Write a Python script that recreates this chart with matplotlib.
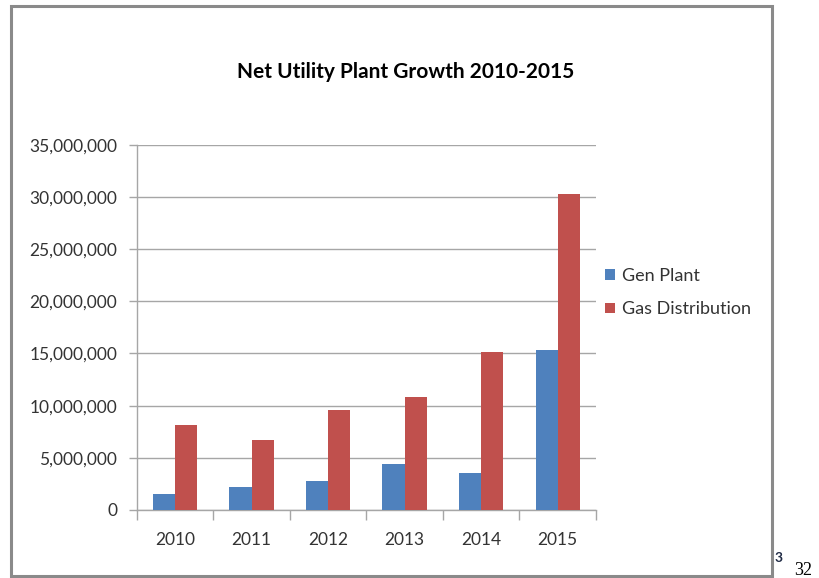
import matplotlib
matplotlib.use("Agg")
import matplotlib.pyplot as plt
from matplotlib.patches import Rectangle
from matplotlib.ticker import FuncFormatter, FixedLocator
import numpy as np

years = ["2010", "2011", "2012", "2013", "2014", "2015"]
gen_plant = [1530000, 2170000, 2810000, 4410000, 3510000, 15330000]
gas_distribution = [8170000, 6700000, 9550000, 10790000, 15170000, 30270000]
series_names = ["Gen Plant", "Gas Distribution"]
title = "Net Utility Plant Growth 2010-2015"

plt.rcParams['font.family'] = ['Lato', 'DejaVu Sans']

W, H = 819, 578
fig = plt.figure(figsize=(W / 100, H / 100), dpi=100)
fig.patch.set_facecolor('white')

def fx(px):
    return px / W

def fy(py):
    return 1 - py / H

# outer border
fig.patches.append(Rectangle((fx(11), fy(576)), fx(772) - fx(11), fy(6) - fy(576),
                             transform=fig.transFigure, fill=False,
                             edgecolor='#8a8a8a', linewidth=2.2))

left, right, top, bottom = 136.7, 596, 144.7, 510
ax = fig.add_axes([fx(left), fy(bottom), fx(right) - fx(left), fy(top) - fy(bottom)])

x = np.arange(len(years))
bw = 0.29
c_blue = '#4F81BD'
c_red = '#C0504D'
b1 = ax.bar(x - bw / 2, gen_plant, bw, color=c_blue, label=series_names[0], zorder=3)
b2 = ax.bar(x + bw / 2, gas_distribution, bw, color=c_red, label=series_names[1], zorder=3)

ax.set_xlim(-0.5, len(years) - 0.5)
ax.set_ylim(0, 35000000)
ax.set_yticks(np.arange(0, 35000001, 5000000))
ax.yaxis.set_major_formatter(FuncFormatter(lambda v, p: f"{int(v):,}"))
ax.grid(axis='y', color='#a6a6a6', linewidth=1.0, zorder=0)
ax.set_axisbelow(True)

ax.set_xticks(x)
ax.set_xticklabels(years)
ax.xaxis.set_minor_locator(FixedLocator(np.arange(-0.5, len(years), 1.0)))
ax.tick_params(axis='x', which='major', length=0, pad=16, labelsize=12.5, labelcolor='#333333')
ax.tick_params(axis='x', which='minor', length=7, width=1, color='#a6a6a6')
ax.tick_params(axis='y', length=6, width=1, color='#a6a6a6', pad=8, labelsize=12.5, labelcolor='#333333')

for s in ['top', 'right']:
    ax.spines[s].set_visible(False)
for s in ['left', 'bottom']:
    ax.spines[s].set_color('#a6a6a6')
    ax.spines[s].set_linewidth(1.0)

fig.text(fx(406), fy(72), title, ha='center', va='center', fontsize=15,
         fontweight='bold', color='#000000')

leg = fig.legend(handles=[b1, b2], labels=series_names, loc='upper left',
                 bbox_to_anchor=(fx(598), fy(261)), frameon=False, fontsize=13,
                 handlelength=0.55, handleheight=0.55, handletextpad=0.4,
                 labelspacing=0.95, borderaxespad=0)
for t in leg.get_texts():
    t.set_color('#333333')

fig.text(fx(775), fy(562), "3", fontsize=10, fontweight='bold', color='#1f2a44',
         ha='left', va='baseline')
fig.text(fx(794), fy(575), "32", fontsize=13, family='Liberation Serif',
         color='#000000', ha='left', va='baseline')

fig.savefig('out.png', dpi=100)
